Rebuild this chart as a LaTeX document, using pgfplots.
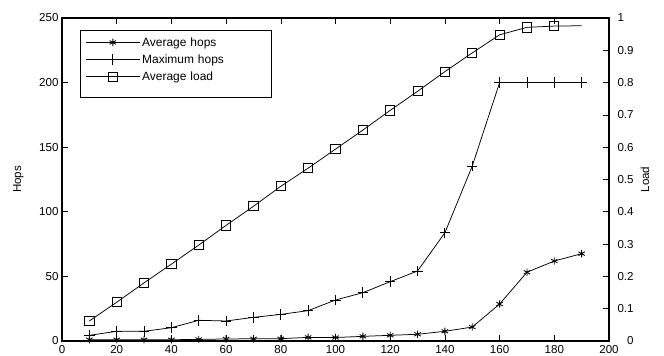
\documentclass[border=0pt]{standalone}
\usepackage{pgfplots}
\pgfplotsset{compat=1.18}
\usepackage{fontspec}
\setmainfont{Liberation Sans}
\begin{document}
\begin{tikzpicture}
\useasboundingbox (-62bp,-15bp) rectangle (602bp,341bp);
\pgfplotsset{
  every axis/.append style={
    scale only axis, width=547bp, height=323bp,
    at={(0,0)}, anchor=south west,
    xmin=0, xmax=200,
    tick label style={font=\fontsize{11.6}{13}\selectfont},
    label style={font=\fontsize{11.6}{13}\selectfont},
    tick align=inside,
    major tick length=6bp,
    /pgf/number format/assume math mode=true,
    tick style={black, line width=0.6bp},
    axis line style={line width=1.2bp},
  },
  mylegimg/.style={legend image code/.code={%
    \draw[##1, mark indices={2}] plot coordinates {(0bp,0bp) (27bp,0bp) (54bp,0bp)};}},
}
\begin{axis}[
  ymin=0, ymax=250,
  xtick={0,20,...,200}, ytick={0,50,...,250},
  xtick pos=both, ytick pos=left,
  xticklabel style={yshift=-1bp},
  ylabel={Hops},
  ylabel style={at={(axis description cs:-0.08,0.5)}, anchor=center},
]
\addplot[black, line width=0.75bp, mark=asterisk, mark size=3.7bp, mark options={line width=0.85bp}] coordinates {
(10,1) (20,1) (30,1) (40,1) (50,1.2) (60,1.6) (70,1.7) (80,1.8) (90,2.8) (100,2.7)
(110,3.6) (120,4.4) (130,5.2) (140,7.5) (150,10.8) (160,28.6) (170,53.2) (180,61.9) (190,67.6)};
\addplot[black, line width=0.75bp, mark=+, mark size=5.2bp, mark options={line width=0.85bp}] coordinates {
(10,4.4) (20,7.5) (30,7.5) (40,10.3) (50,16) (60,15.5) (70,18.3) (80,20.6) (90,23.5) (100,31.7)
(110,37.4) (120,45.9) (130,54.2) (140,83.8) (150,135.4) (160,200) (170,200) (180,200) (190,200)};
\end{axis}
\begin{axis}[
  ymin=0, ymax=1,
  axis x line=none, axis y line*=right,
  ytick={0,0.1,0.2,0.3,0.4,0.5,0.6,0.7,0.8,0.9,1},
  yticklabels={\hphantom{0.}0,0.1,0.2,0.3,0.4,0.5,0.6,0.7,0.8,0.9,1},
  yticklabel style={anchor=west, xshift=5bp},
  ylabel={Load},
  ylabel style={at={(axis description cs:1.066,0.5)}, anchor=center},
  legend style={at={(0.033,0.963)}, anchor=north west, draw=black, line width=0.8bp,
    font=\fontsize{12}{14}\selectfont, inner xsep=5bp, inner ysep=5bp, row sep=3bp,
    /tikz/every even column/.append style={text width=122bp}},
  legend cell align=left,
  mylegimg,
]
\addlegendimage{black, line width=0.75bp, mark=asterisk, mark size=3.7bp, mark options={line width=0.85bp}}
\addlegendentry{Average hops}
\addlegendimage{black, line width=0.75bp, mark=+, mark size=5.2bp, mark options={line width=0.85bp}}
\addlegendentry{Maximum hops}
\addplot[black, line width=0.75bp, mark=square, mark size=4.6bp, mark indices={1,...,18}, mark options={line width=0.85bp}] coordinates {
(10,0.062) (20,0.12) (30,0.18) (40,0.238) (50,0.297) (60,0.358) (70,0.417) (80,0.479) (90,0.535) (100,0.594)
(110,0.653) (120,0.714) (130,0.773) (140,0.834) (150,0.892) (160,0.948) (170,0.971) (180,0.975) (190,0.976)};
\addlegendentry{Average load}
\addlegendimage{empty legend}
\addlegendentry{}
\end{axis}
\end{tikzpicture}
\end{document}
